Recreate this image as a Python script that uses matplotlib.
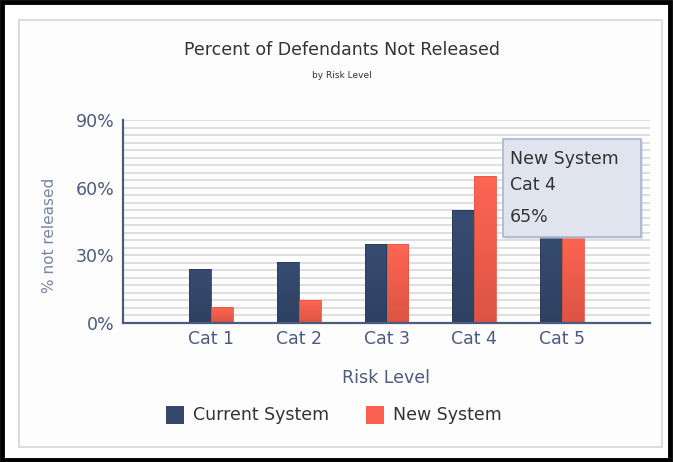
import matplotlib
matplotlib.use("Agg")
import matplotlib.pyplot as plt
import numpy as np
from matplotlib.patches import Rectangle
from matplotlib.colors import LinearSegmentedColormap

categories = ["Cat 1", "Cat 2", "Cat 3", "Cat 4", "Cat 5"]
current_system = [24, 27, 35, 50, 42]
new_system = [7, 10, 35, 65, 40]
y_ticks = [0, 30, 60, 90]
y_tick_labels = ["0%", "30%", "60%", "90%"]

W, H = 673, 462
fig = plt.figure(figsize=(W / 100, H / 100), dpi=100)
fig.patch.set_facecolor("white")

def fx(px):
    return px / W

def fy(py):
    return 1 - py / H

# outer black frame and inner panel
fig.patches.append(Rectangle((fx(2), fy(460)), fx(668), 458 / H, transform=fig.transFigure,
                             fill=False, edgecolor="black", linewidth=3.5, zorder=-2))
fig.patches.append(Rectangle((fx(19), fy(447)), fx(643), 427 / H, transform=fig.transFigure,
                             facecolor="#fdfdfd", edgecolor="#d6d6d6", linewidth=1.2, zorder=-1))

axis_color = "#4b5b7e"
navy = "#34486c"
coral = "#fb6050"

ax = fig.add_axes([fx(123), fy(323), fx(527), 203 / H])
ax.set_zorder(1)
ax.set_facecolor("none")
x = np.arange(1, len(categories) + 1)
bw = 0.25
ax.set_xlim(0, 6)
ax.set_ylim(0, 90)

cmap_navy = LinearSegmentedColormap.from_list("navy", ["#2f4162", "#374c71"])
cmap_coral = LinearSegmentedColormap.from_list("coral", ["#dc5444", "#ff6553"])
grad = np.linspace(0, 1, 128).reshape(-1, 1)

def gradient_bars(xs, heights, cmap, edge):
    bars = ax.bar(xs, heights, width=bw, color="none", edgecolor=edge, linewidth=0.6, zorder=4)
    for b in bars:
        x0, y0 = b.get_x(), b.get_y()
        im = ax.imshow(grad, cmap=cmap, origin="lower", aspect="auto",
                       extent=(x0, x0 + b.get_width(), y0, y0 + b.get_height()), zorder=3)
        im.set_clip_path(b)
    return bars

gradient_bars(x - bw / 2, current_system, cmap_navy, "#2b3c5c")
gradient_bars(x + bw / 2, new_system, cmap_coral, "#e55646")
ax.set_xlim(0, 6)
ax.set_ylim(0, 90)
ax.set_aspect("auto")

for v in np.linspace(0, 90, 28)[1:]:
    ax.axhline(v, color="#d6d6d6", linewidth=1.1, zorder=1)

ax.set_xticks(x)
ax.set_xticklabels(categories)
ax.set_yticks(y_ticks)
ax.set_yticklabels(y_tick_labels)
ax.tick_params(axis="both", length=0, colors=axis_color, labelsize=12.5)
ax.tick_params(axis="x", pad=5)
ax.tick_params(axis="y", pad=6)
for s in ["top", "right"]:
    ax.spines[s].set_visible(False)
for s in ["left", "bottom"]:
    ax.spines[s].set_color(axis_color)
    ax.spines[s].set_linewidth(1.6)
    ax.spines[s].set_zorder(5)

ax.set_xlabel("Risk Level", color=axis_color, fontsize=12.5, labelpad=15)
fig.text(fx(50), fy(235), "% not released", rotation=90, ha="center", va="center",
         color="#7684a3", fontsize=11)

fig.text(fx(342), fy(50), "Percent of Defendants Not Released", ha="center", va="center",
         color="#333333", fontsize=12.5)
fig.text(fx(342), fy(76), "by Risk Level", ha="center", va="center",
         color="#333333", fontsize=6.5)

# legend
fig.patches.append(Rectangle((fx(166), fy(424)), fx(18), 18 / H, transform=fig.transFigure,
                             facecolor=navy, edgecolor="none"))
fig.text(fx(193), fy(415), "Current System", ha="left", va="center", color="#333333", fontsize=12.5)
fig.patches.append(Rectangle((fx(366), fy(424)), fx(18), 18 / H, transform=fig.transFigure,
                             facecolor=coral, edgecolor="none"))
fig.text(fx(393), fy(415), "New System", ha="left", va="center", color="#333333", fontsize=12.5)

# hover tooltip for the Cat 4 new-system bar
tip_idx = 3
fig.patches.append(Rectangle((fx(505), fy(239)), fx(138), 98 / H, transform=fig.transFigure,
                             facecolor="#c8c8c8", edgecolor="none", alpha=0.5, zorder=5))
fig.patches.append(Rectangle((fx(503), fy(237)), fx(138), 98 / H, transform=fig.transFigure,
                             facecolor="#dfe4ee", edgecolor="#a7b6d1", linewidth=1.2, zorder=6))
tip_lines = ["New System", categories[tip_idx], f"{new_system[tip_idx]}%"]
for t, yy in zip(tip_lines, [159, 185, 217]):
    fig.text(fx(510), fy(yy), t, ha="left", va="center", color="#333333", fontsize=12.5, zorder=7)

fig.savefig("out.png", dpi=100)
